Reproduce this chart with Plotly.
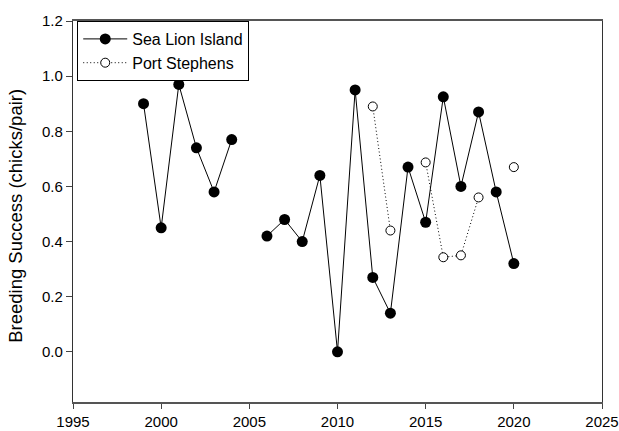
import plotly.graph_objects as go

# Breeding seasons (years) and breeding success, chicks per pair
years = list(range(1999, 2021))

sea_lion_island = [0.90, 0.45, 0.97, 0.74, 0.58, 0.77, None, 0.42, 0.48, 0.40,
                   0.64, 0.00, 0.95, 0.27, 0.14, 0.67, 0.47, 0.925, 0.60, 0.87,
                   0.58, 0.32]

port_stephens = [None, None, None, None, None, None, None, None, None, None,
                 None, None, None, 0.89, 0.44, None, 0.687, 0.343, 0.35, 0.56,
                 None, 0.67]

x_ticks = [1995, 2000, 2005, 2010, 2015, 2020, 2025]
y_ticks = [0.0, 0.2, 0.4, 0.6, 0.8, 1.0, 1.2]

FONT = "Liberation Sans, Arial, sans-serif"

fig = go.Figure()

fig.add_trace(go.Scatter(
    x=years, y=sea_lion_island, name="Sea Lion Island",
    mode="lines+markers", connectgaps=False,
    line=dict(color="black", width=1),
    marker=dict(symbol="circle", size=11, color="black",
                line=dict(color="black", width=0)),
))

fig.add_trace(go.Scatter(
    x=years, y=port_stephens, name="Port Stephens",
    mode="lines+markers", connectgaps=False,
    line=dict(color="black", width=1, dash="1px,2.5px"),
    marker=dict(symbol="circle", size=9, color="white",
                line=dict(color="black", width=1)),
))

fig.update_layout(
    width=619, height=431,
    margin=dict(l=73, r=17, t=21, b=29),
    paper_bgcolor="white", plot_bgcolor="white",
    font=dict(family=FONT, color="black", size=15),
    showlegend=True,
    legend=dict(
        x=0.008, y=1, xanchor="left", yanchor="top",
        bgcolor="white", bordercolor="black", borderwidth=1,
        font=dict(family=FONT, size=16, color="black"),
        itemwidth=44, tracegroupgap=0,
    ),
    xaxis=dict(
        range=[1995, 2025], tickvals=x_ticks, automargin=False,
        ticks="outside", ticklen=5, tickwidth=1, tickcolor="#444",
        showline=True, linecolor="#555", linewidth=1.5, mirror=True,
        showgrid=False, zeroline=False,
        tickfont=dict(family=FONT, size=15, color="black"),
    ),
    yaxis=dict(
        range=[-0.182, 1.2], tickvals=y_ticks, tickformat=".1f",
        automargin=False,
        ticks="outside", ticklen=6, tickwidth=1, tickcolor="#444",
        showline=True, linecolor="#333", linewidth=1.2, mirror=True,
        showgrid=False, zeroline=False,
        tickfont=dict(family=FONT, size=15, color="black"),
    ),
    annotations=[dict(
        text="Breeding Success (chicks/pair)",
        xref="paper", yref="paper", x=-0.109, y=0.4895,
        xanchor="center", yanchor="middle", textangle=-90,
        showarrow=False, font=dict(family=FONT, size=18.5, color="black"),
    )],
)

fig.write_html("out.html")
